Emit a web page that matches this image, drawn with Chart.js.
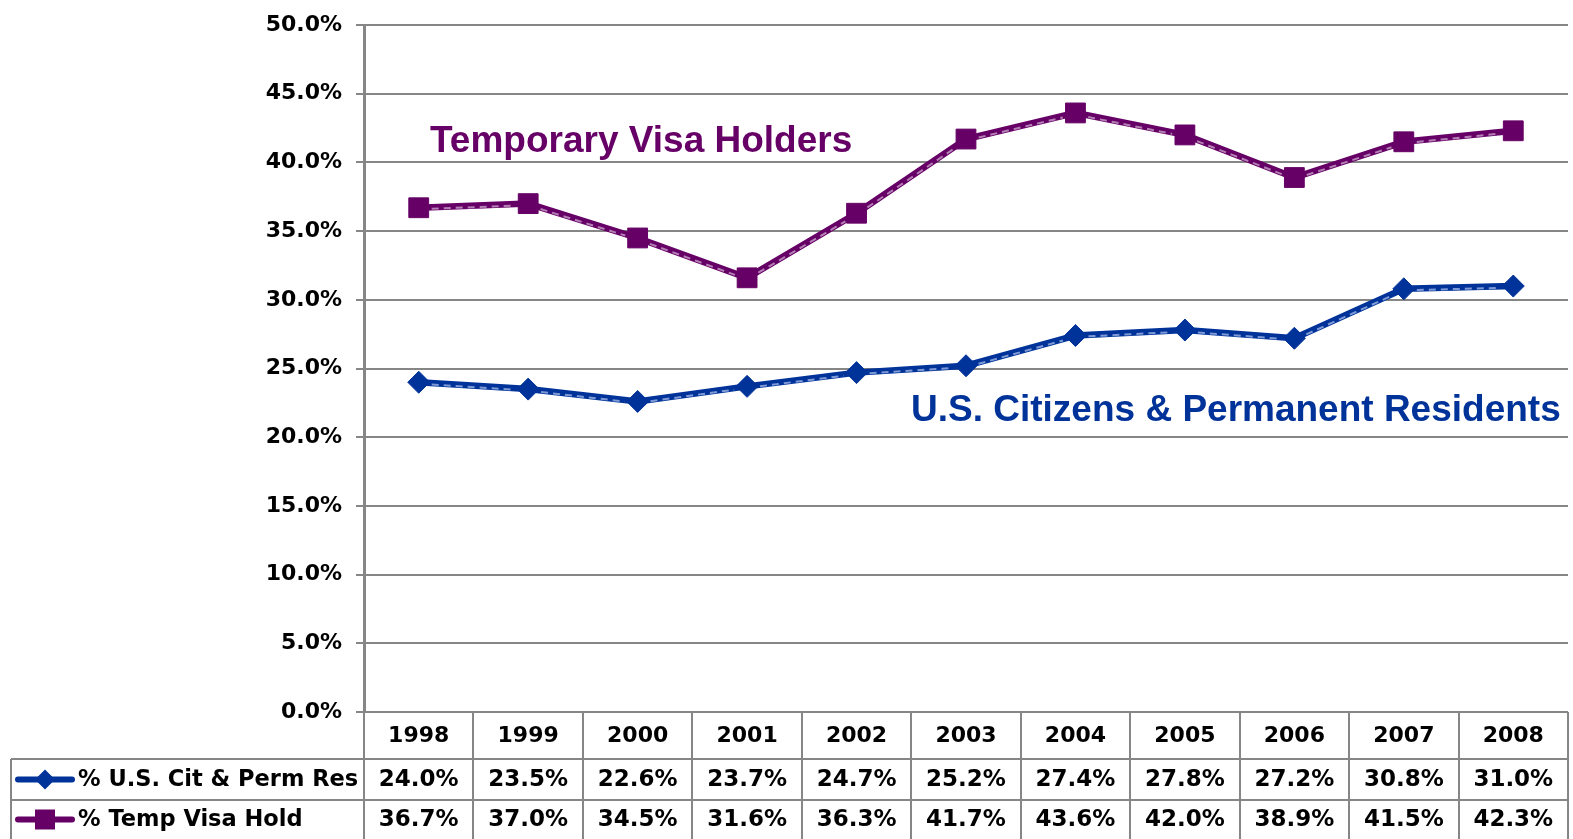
<!DOCTYPE html>
<html>
<head>
<meta charset="utf-8">
<script src="https://cdn.jsdelivr.net/npm/chart.js@4.4.1/dist/chart.umd.min.js"></script>
<style>
html, body { margin: 0; padding: 0; background: #fff; }
canvas { display: block; }
</style>
</head>
<body>
<canvas id="chart" width="1573" height="839"></canvas>
<script>
const years = ['1998', '1999', '2000', '2001', '2002', '2003', '2004', '2005', '2006', '2007', '2008'];
const citPerm = [24.0, 23.5, 22.6, 23.7, 24.7, 25.2, 27.4, 27.8, 27.2, 30.8, 31.0];
const tempVisa = [36.7, 37.0, 34.5, 31.6, 36.3, 41.7, 43.6, 42.0, 38.9, 41.5, 42.3];
const seriesNames = ['% U.S. Cit & Perm Res', '% Temp Visa Hold'];
const seriesLabels = ['U.S. Citizens & Permanent Residents', 'Temporary Visa Holders'];

const BLUE = '#003399';
const PURPLE = '#660066';
const GRID = '#868686';

// lighter dashes along the lines (the original has a bevel look)
const highlightPlugin = {
    id: 'highlight',
    afterDatasetsDraw(chart) {
        const ctx = chart.ctx;
        const tints = ['#7e9ad6', '#b47fb4'];
        chart.data.datasets.forEach((ds, di) => {
            const pts = chart.getDatasetMeta(di).data;
            ctx.save();
            ctx.strokeStyle = tints[di];
            ctx.lineWidth = 2;
            ctx.setLineDash([7, 5]);
            for (let i = 0; i < pts.length - 1; i++) {
                const p0 = pts[i], p1 = pts[i + 1];
                const dx = p1.x - p0.x, dy = p1.y - p0.y;
                const len = Math.hypot(dx, dy);
                const ux = dx / len, uy = dy / len;
                const gap = 13;
                ctx.beginPath();
                ctx.moveTo(p0.x + ux * gap, p0.y + uy * gap + 1.5);
                ctx.lineTo(p1.x - ux * gap, p1.y - uy * gap + 1.5);
                ctx.stroke();
            }
            ctx.restore();
        });
    }
};

function drawMarker(ctx, style, x, y, color) {
    ctx.fillStyle = color;
    ctx.beginPath();
    if (style === 'rectRot') {
        ctx.moveTo(x, y - 10); ctx.lineTo(x + 10, y); ctx.lineTo(x, y + 10); ctx.lineTo(x - 10, y);
    } else {
        ctx.rect(x - 10, y - 10, 20, 20);
    }
    ctx.closePath();
    ctx.fill();
}

// text labels + data table under the plot
const tablePlugin = {
    id: 'dataTable',
    afterDraw(chart) {
        const ctx = chart.ctx;
        const xs = chart.scales.x;
        const a = chart.chartArea;
        const n = years.length;
        const w = (a.right - a.left) / n;
        const top = a.bottom, r1 = top + 47, r2 = r1 + 41, bottom = chart.height;
        const tableLeft = 11;

        ctx.save();
        // series labels
        ctx.font = 'bold 37px "Liberation Sans", Arial, sans-serif';
        ctx.textBaseline = 'alphabetic';
        ctx.textAlign = 'left';
        ctx.fillStyle = PURPLE;
        ctx.fillText(seriesLabels[1], 430, 152);
        ctx.fillStyle = BLUE;
        ctx.fillText(seriesLabels[0], 911, 421);

        // grid of the table
        ctx.strokeStyle = GRID;
        ctx.lineWidth = 2;
        ctx.beginPath();
        for (let i = 0; i <= n; i++) {
            const bx = Math.round(a.left + i * w);
            ctx.moveTo(bx, top);
            ctx.lineTo(bx, bottom);
        }
        ctx.moveTo(tableLeft, r1); ctx.lineTo(a.right, r1);
        ctx.moveTo(tableLeft, r2); ctx.lineTo(a.right, r2);
        ctx.moveTo(tableLeft, r1); ctx.lineTo(tableLeft, bottom);
        ctx.stroke();

        // years
        ctx.fillStyle = '#000';
        ctx.textAlign = 'center';
        ctx.textBaseline = 'middle';
        ctx.font = 'bold 22px "DejaVu Sans", sans-serif';
        years.forEach((y, i) => ctx.fillText(y, xs.getPixelForValue(i), (top + r1) / 2 + 1));

        // values
        const rows = [citPerm, tempVisa];
        const rowY = [(r1 + r2) / 2, (r2 + bottom) / 2];
        ctx.font = 'bold 23px "DejaVu Sans", sans-serif';
        rows.forEach((vals, ri) => {
            vals.forEach((v, i) => ctx.fillText(v.toFixed(1) + '%', xs.getPixelForValue(i), rowY[ri] + 1));
        });

        // legend keys
        const colors = [BLUE, PURPLE];
        const styles = ['rectRot', 'rect'];
        rows.forEach((vals, ri) => {
            const y = rowY[ri];
            ctx.strokeStyle = colors[ri];
            ctx.lineWidth = 6;
            ctx.lineCap = 'round';
            ctx.beginPath();
            ctx.moveTo(18, y); ctx.lineTo(72, y);
            ctx.stroke();
            drawMarker(ctx, styles[ri], 45, y, colors[ri]);
            ctx.fillStyle = '#000';
            ctx.textAlign = 'left';
            ctx.font = 'bold 22.5px "DejaVu Sans", sans-serif';
            ctx.fillText(seriesNames[ri], 78, y + 1);
        });
        ctx.restore();
    }
};

new Chart(document.getElementById('chart'), {
    type: 'line',
    data: {
        labels: years,
        datasets: [
            {
                label: seriesNames[0], data: citPerm,
                borderColor: BLUE, backgroundColor: BLUE, borderWidth: 6.5,
                pointStyle: 'rectRot', pointRadius: 11, pointBorderWidth: 1, tension: 0
            },
            {
                label: seriesNames[1], data: tempVisa,
                borderColor: PURPLE, backgroundColor: PURPLE, borderWidth: 6.5,
                pointStyle: 'rect', pointRadius: 14, pointBorderWidth: 1, tension: 0
            }
        ]
    },
    options: {
        responsive: false,
        animation: false,
        layout: { autoPadding: false, padding: { top: 23, right: 5, bottom: 127, left: 0 } },
        plugins: { legend: { display: false }, tooltip: { enabled: false } },
        scales: {
            x: { type: 'category', display: false, offset: true },
            y: {
                min: 0, max: 50,
                afterFit: s => { s.width = 364; },
                ticks: {
                    stepSize: 5,
                    padding: 14,
                    color: '#000',
                    font: { family: 'DejaVu Sans', weight: 'bold', size: 22, lineHeight: 1 },
                    callback: v => v.toFixed(1) + '%'
                },
                grid: { color: GRID, lineWidth: 2, tickLength: 8 },
                border: { color: GRID, width: 3 }
            }
        }
    },
    plugins: [highlightPlugin, tablePlugin]
});
</script>
</body>
</html>
